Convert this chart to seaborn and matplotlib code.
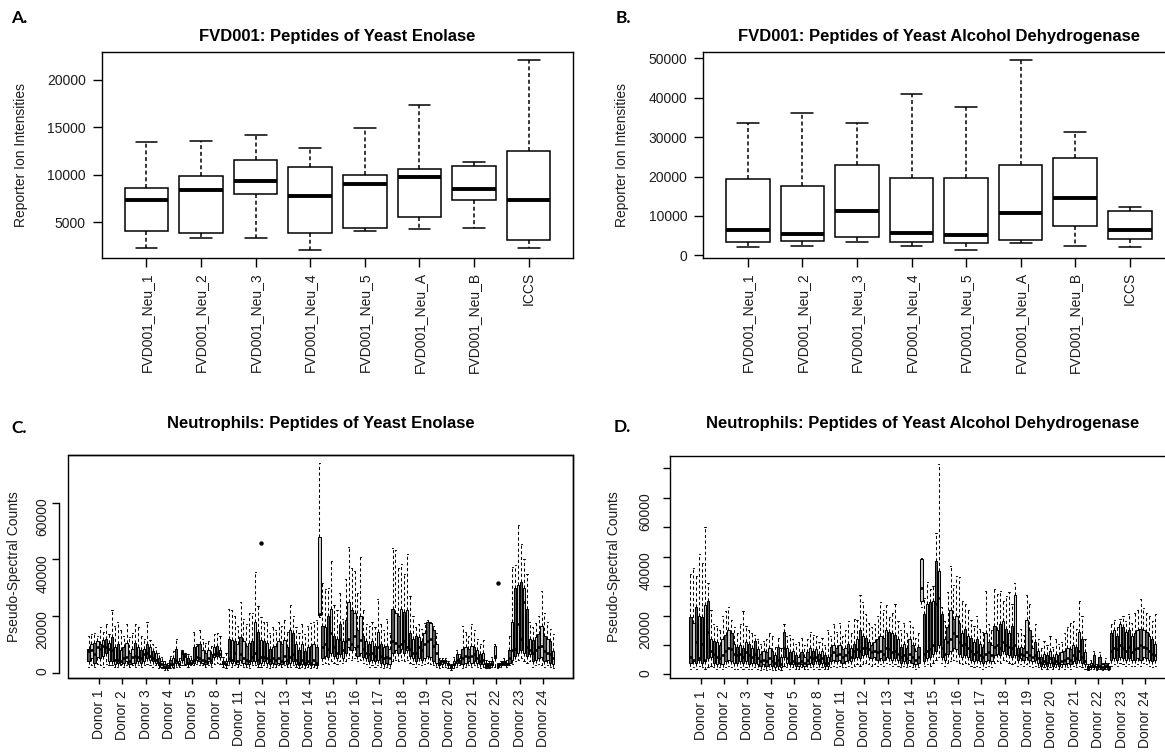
import numpy as np
import pandas as pd
import matplotlib
matplotlib.use("Agg")
import matplotlib.pyplot as plt
from matplotlib.ticker import MultipleLocator, FuncFormatter
from matplotlib.patches import Rectangle
import seaborn as sns

# ---------------------------------------------------------------------------
# Panels A and B: FVD001 samples, five-number summaries per sample
# ---------------------------------------------------------------------------
fvd_samples = ["FVD001_Neu_1", "FVD001_Neu_2", "FVD001_Neu_3", "FVD001_Neu_4",
               "FVD001_Neu_5", "FVD001_Neu_A", "FVD001_Neu_B", "ICCS"]

# yeast enolase reporter ion intensities
eno_fvd_lo = [2280, 3270, 3340, 2040, 4010, 4290, 4400, 2280]
eno_fvd_q1 = [4010, 3800, 8000, 3800, 4400, 5490, 7360, 3130]
eno_fvd_med = [7360, 8350, 9340, 7750, 9020, 9760, 8530, 7290]
eno_fvd_q3 = [8600, 9870, 11530, 10860, 9980, 10580, 10930, 12520]
eno_fvd_hi = [13470, 13540, 14240, 12870, 14920, 17390, 11350, 22120]

# yeast alcohol dehydrogenase reporter ion intensities
adh_fvd_lo = [2030, 2370, 3470, 2370, 1350, 3050, 2370, 2030]
adh_fvd_q1 = [3470, 3720, 4740, 3470, 3050, 3980, 7360, 4150]
adh_fvd_med = [6350, 5410, 11250, 5670, 5080, 10830, 14470, 6350]
adh_fvd_q3 = [19290, 17600, 22840, 19540, 19710, 23010, 24700, 11250]
adh_fvd_hi = [33500, 36040, 33500, 41030, 37560, 49580, 31220, 12270]

# ---------------------------------------------------------------------------
# Panels C and D: neutrophil donors, eight runs per donor
# (pseudo-spectral counts, in thousands; one row per donor)
# ---------------------------------------------------------------------------
donors = [1, 2, 3, 4, 5, 8, 11, 12, 13, 14, 15, 16, 17, 18, 19, 20, 21, 22, 23, 24]

eno_neu_lo = [
    [2.0, 2.5, 2.0, 3.0, 2.5, 2.0, 3.0, 2.5], [2.5, 2.0, 2.0, 2.5, 2.0, 2.5, 2.0, 2.5],
    [2.0, 2.5, 2.0, 2.5, 3.0, 2.5, 2.0, 2.5], [1.5, 1.5, 1.0, 1.0, 1.5, 1.5, 2.0, 2.0],
    [2.5, 2.5, 2.0, 2.5, 2.5, 3.0, 2.5, 2.5], [2.0, 2.5, 2.0, 3.0, 3.5, 3.0, 2.0, 1.5],
    [2.5, 2.0, 2.5, 2.0, 2.5, 2.0, 2.0, 1.5], [2.5, 2.5, 2.0, 2.0, 2.5, 2.0, 1.5, 2.0],
    [2.0, 2.5, 2.0, 2.5, 2.0, 2.0, 2.5, 2.0], [1.5, 2.0, 1.5, 2.0, 1.5, 2.0, 1.5, 19.5],
    [3.0, 3.5, 3.0, 4.0, 3.5, 3.0, 4.0, 3.5], [4.0, 5.0, 4.5, 5.0, 4.0, 4.5, 3.5, 3.0],
    [2.0, 2.5, 2.0, 2.5, 2.0, 1.5, 2.0, 1.5], [4.0, 4.5, 4.0, 4.5, 4.0, 4.5, 3.5, 3.0],
    [2.0, 3.0, 2.5, 3.0, 3.5, 3.0, 2.5, 2.0], [1.5, 2.0, 2.0, 1.5, 1.0, 1.5, 2.0, 2.5],
    [1.5, 2.0, 2.5, 2.0, 2.5, 2.0, 1.5, 2.0], [1.5, 1.5, 2.0, 2.0, 1.5, 2.0, 2.5, 2.0],
    [2.5, 3.0, 4.0, 4.5, 5.0, 4.0, 3.5, 4.0], [2.0, 2.5, 3.0, 2.5, 2.0, 2.5, 2.0, 1.5],
]
eno_neu_q1 = [
    [4.0, 5.0, 3.5, 5.5, 5.0, 6.0, 7.0, 4.0], [4.0, 3.0, 3.5, 3.0, 3.5, 4.0, 3.0, 3.5],
    [3.5, 4.0, 3.5, 4.0, 5.0, 4.5, 4.0, 3.5], [2.5, 2.0, 1.5, 1.5, 2.5, 2.0, 3.5, 2.5],
    [4.5, 3.0, 3.0, 3.0, 3.5, 4.5, 4.0, 3.5], [3.0, 4.0, 3.5, 5.5, 6.0, 5.5, 3.0, 2.5],
    [4.0, 3.5, 4.0, 3.0, 4.5, 3.5, 3.0, 3.0], [4.0, 4.0, 3.0, 3.5, 4.0, 3.5, 3.0, 3.5],
    [3.0, 3.5, 3.0, 4.0, 3.0, 3.5, 4.0, 3.0], [2.5, 3.0, 2.5, 3.0, 2.5, 3.0, 2.5, 20.2],
    [5.0, 6.0, 5.5, 7.0, 6.0, 5.0, 6.5, 5.0], [7.0, 9.0, 8.0, 9.0, 6.0, 7.0, 5.5, 5.0],
    [4.0, 4.5, 4.0, 4.5, 3.5, 3.0, 3.5, 3.0], [7.0, 8.0, 7.0, 8.5, 7.0, 8.0, 6.0, 5.0],
    [4.0, 5.0, 4.5, 5.0, 6.0, 5.5, 4.0, 3.5], [2.5, 3.0, 3.5, 2.5, 1.5, 2.5, 3.5, 3.5],
    [3.0, 3.5, 4.0, 3.5, 4.0, 3.5, 3.0, 3.0], [2.0, 2.0, 2.5, 5.0, 2.0, 2.5, 3.0, 2.5],
    [3.5, 4.5, 6.0, 7.0, 8.0, 7.0, 6.0, 6.5], [4.0, 4.5, 5.0, 5.5, 4.0, 4.5, 3.5, 3.0],
]
eno_neu_med = [
    [7.5, 8.0, 6.5, 9.0, 8.5, 9.5, 9.0, 8.5], [8.0, 4.5, 4.5, 4.0, 5.0, 5.5, 4.0, 5.5],
    [6.0, 5.5, 5.0, 6.5, 7.0, 6.0, 5.0, 4.5], [3.5, 3.0, 2.0, 2.0, 3.0, 3.0, 4.5, 3.0],
    [7.0, 6.0, 3.5, 3.5, 4.5, 5.5, 5.0, 4.5], [4.0, 5.0, 4.5, 6.5, 7.0, 6.5, 3.5, 3.0],
    [5.0, 4.5, 7.0, 4.0, 6.5, 5.0, 4.5, 4.0], [5.5, 7.0, 4.5, 5.5, 5.5, 5.0, 4.5, 5.0],
    [4.5, 5.0, 4.0, 6.0, 4.5, 5.5, 6.5, 4.5], [3.5, 4.5, 3.5, 4.0, 3.5, 4.5, 3.5, 20.8],
    [9.0, 10.0, 8.5, 14.0, 9.0, 7.0, 12.0, 8.0], [11.0, 12.0, 10.0, 13.0, 9.5, 11.5, 8.5, 7.0],
    [6.5, 7.0, 6.0, 9.0, 6.0, 5.0, 5.5, 5.0], [11.0, 10.5, 9.5, 10.0, 11.0, 9.0, 8.5, 7.0],
    [7.0, 9.0, 8.0, 10.0, 11.0, 12.0, 9.5, 7.0], [3.5, 4.0, 4.0, 3.0, 2.0, 3.0, 4.5, 4.0],
    [5.0, 6.0, 5.5, 6.0, 6.5, 5.0, 4.0, 4.5], [2.5, 2.5, 3.0, 6.0, 2.5, 3.0, 3.5, 3.0],
    [5.0, 8.0, 8.5, 17.0, 12.0, 25.0, 9.0, 8.0], [7.0, 8.0, 9.0, 9.5, 7.5, 7.0, 6.5, 5.0],
]
eno_neu_q3 = [
    [8.5, 10.0, 10.5, 11.0, 10.0, 11.5, 12.0, 10.5], [12.5, 9.0, 10.0, 8.0, 9.0, 10.5, 7.0, 8.5],
    [10.5, 9.0, 8.0, 8.5, 10.0, 9.0, 7.5, 7.0], [5.0, 4.0, 3.0, 2.5, 4.5, 5.0, 8.5, 4.0],
    [7.5, 6.5, 5.0, 4.5, 9.0, 9.5, 10.0, 8.0], [7.0, 8.0, 6.5, 9.0, 9.5, 8.0, 4.0, 4.0],
    [12.0, 11.5, 11.0, 10.0, 12.5, 11.0, 9.5, 10.5], [11.0, 18.0, 14.5, 11.5, 11.0, 10.5, 8.5, 9.0],
    [9.5, 11.0, 10.0, 11.5, 9.0, 15.0, 14.0, 10.0], [8.0, 10.0, 7.5, 9.0, 9.5, 10.0, 9.0, 48.0],
    [16.5, 16.0, 20.0, 22.5, 13.0, 12.0, 17.0, 11.0], [18.5, 25.0, 22.0, 21.0, 15.0, 20.0, 13.0, 11.0],
    [10.0, 11.0, 9.5, 14.5, 10.0, 9.0, 9.5, 8.5], [22.5, 21.0, 20.0, 22.5, 21.5, 22.0, 14.0, 12.0],
    [13.0, 12.5, 11.0, 14.0, 18.0, 17.5, 15.0, 10.0], [4.5, 4.5, 4.5, 3.5, 2.5, 4.0, 6.5, 5.0],
    [8.5, 9.0, 8.5, 9.5, 9.0, 8.0, 6.5, 7.0], [3.5, 3.5, 4.0, 9.5, 3.0, 3.5, 4.0, 3.5],
    [8.0, 18.0, 30.0, 31.0, 32.0, 30.0, 22.5, 12.0], [11.5, 12.5, 13.5, 16.5, 13.0, 12.0, 11.0, 7.5],
]
eno_neu_hi = [
    [13.0, 13.5, 14.0, 13.0, 16.0, 14.5, 17.0, 13.5], [22.0, 16.5, 18.0, 15.0, 13.0, 17.0, 12.5, 14.0],
    [17.0, 16.0, 13.0, 12.0, 18.0, 11.5, 10.0, 9.0], [7.0, 5.5, 4.0, 3.5, 6.0, 7.5, 12.0, 5.0],
    [8.0, 7.0, 6.5, 6.0, 14.5, 10.0, 15.0, 12.0], [10.5, 11.0, 9.5, 13.5, 14.0, 13.0, 5.5, 7.0],
    [22.5, 22.0, 20.0, 16.5, 25.0, 19.0, 17.0, 21.0], [21.0, 35.5, 23.5, 19.5, 18.0, 18.0, 14.0, 16.0],
    [15.0, 18.0, 16.5, 18.5, 14.5, 24.0, 20.0, 16.0], [14.0, 17.0, 13.5, 16.5, 17.5, 18.0, 18.5, 74.0],
    [31.5, 29.5, 30.0, 39.5, 24.0, 22.0, 28.0, 19.0], [33.0, 44.5, 37.0, 36.0, 28.0, 41.0, 22.0, 17.0],
    [16.5, 18.0, 16.0, 26.0, 17.0, 15.0, 19.0, 14.0], [44.0, 43.5, 37.0, 38.5, 35.0, 42.0, 27.0, 20.0],
    [16.0, 17.0, 15.5, 17.5, 18.5, 18.0, 16.5, 14.0], [5.0, 5.0, 5.0, 4.0, 3.0, 5.5, 8.0, 6.5],
    [16.5, 14.5, 13.0, 17.0, 15.0, 12.0, 10.0, 11.5], [4.5, 4.0, 5.5, 10.0, 3.5, 4.0, 5.0, 4.5],
    [13.0, 37.5, 38.0, 52.0, 45.5, 40.0, 35.0, 18.0], [16.0, 17.5, 20.0, 29.0, 21.0, 18.0, 15.5, 13.5],
]
# single outlying runs (donor, run within donor, value in thousands)
eno_outlier_donor = [12, 22]
eno_outlier_run = [3, 4]
eno_outlier_value = [45.8, 31.5]

adh_neu_lo = [
    [2.0, 2.5, 2.0, 3.0, 2.5, 2.0, 2.5, 3.0], [2.5, 2.0, 2.5, 2.0, 2.5, 3.0, 2.5, 2.0],
    [2.0, 2.5, 2.0, 2.5, 2.0, 2.0, 2.5, 2.0], [1.5, 2.0, 1.5, 2.0, 1.5, 1.5, 2.0, 1.5],
    [3.0, 2.5, 2.0, 2.5, 2.0, 2.0, 2.5, 2.0], [2.0, 2.5, 2.0, 2.5, 2.0, 2.5, 2.0, 2.0],
    [2.5, 3.0, 2.5, 3.0, 2.5, 2.5, 3.0, 2.5], [3.0, 3.5, 3.0, 3.5, 4.0, 3.5, 3.0, 3.5],
    [3.0, 3.5, 3.0, 4.0, 3.5, 3.0, 3.5, 3.0], [2.5, 3.0, 2.5, 3.0, 2.5, 2.0, 2.5, 22.8],
    [3.0, 3.5, 3.0, 4.0, 5.0, 6.0, 4.0, 3.0], [4.0, 4.5, 5.0, 4.5, 4.0, 3.5, 4.0, 3.5],
    [3.0, 2.5, 3.0, 2.5, 2.0, 2.5, 3.0, 2.5], [4.0, 4.5, 4.0, 5.0, 4.5, 4.0, 3.5, 4.0],
    [3.0, 3.5, 3.0, 3.5, 3.0, 2.5, 3.0, 2.5], [2.0, 2.5, 2.0, 2.5, 2.0, 2.5, 2.0, 2.5],
    [2.0, 2.5, 2.0, 3.0, 2.5, 3.0, 2.5, 2.0], [1.5, 2.0, 2.0, 1.5, 2.0, 1.5, 2.0, 1.5],
    [3.0, 3.5, 3.0, 4.0, 3.5, 3.0, 3.5, 3.0], [3.0, 3.5, 3.0, 4.0, 3.5, 3.0, 2.5, 3.0],
]
adh_neu_q1 = [
    [4.0, 4.5, 4.0, 5.0, 4.0, 4.5, 5.5, 6.0], [4.0, 3.5, 4.0, 3.5, 4.5, 5.0, 4.5, 4.0],
    [4.0, 4.5, 4.0, 4.5, 3.5, 4.0, 4.0, 3.5], [3.0, 3.5, 3.0, 3.5, 3.0, 2.5, 3.0, 2.5],
    [6.0, 4.0, 3.5, 3.5, 3.0, 3.0, 3.5, 3.0], [3.5, 4.0, 3.5, 4.5, 3.5, 4.0, 3.0, 3.0],
    [4.5, 5.0, 4.5, 5.0, 4.0, 4.5, 5.0, 4.5], [5.5, 6.0, 5.5, 6.5, 7.0, 6.0, 5.5, 6.0],
    [5.0, 5.5, 5.0, 6.0, 5.5, 5.0, 5.5, 5.0], [4.0, 4.5, 4.0, 5.0, 4.0, 3.5, 4.0, 25.0],
    [4.5, 5.5, 6.0, 7.0, 8.0, 10.0, 6.0, 5.0], [7.0, 8.0, 9.0, 8.5, 7.0, 6.0, 6.5, 6.0],
    [5.0, 4.5, 5.0, 4.5, 4.0, 4.5, 5.0, 4.5], [6.5, 7.0, 6.5, 8.0, 7.0, 6.5, 6.0, 6.5],
    [5.0, 5.5, 5.0, 6.0, 5.0, 4.5, 5.0, 4.0], [3.0, 3.5, 3.0, 4.0, 3.0, 3.5, 3.0, 3.5],
    [3.5, 4.0, 3.5, 4.5, 4.0, 5.0, 4.0, 3.5], [2.0, 2.5, 2.5, 2.0, 2.5, 2.0, 2.5, 2.0],
    [5.0, 5.5, 5.0, 6.0, 5.5, 5.0, 5.5, 5.0], [5.0, 5.5, 5.0, 6.0, 5.5, 5.0, 4.5, 5.0],
]
adh_neu_med = [
    [6.0, 5.0, 11.0, 5.5, 10.5, 5.0, 14.5, 8.0], [7.0, 6.0, 5.5, 6.5, 8.0, 9.0, 8.5, 7.0],
    [6.5, 7.0, 6.0, 7.5, 6.5, 6.0, 7.0, 5.5], [4.5, 5.0, 4.5, 5.5, 4.5, 4.0, 5.0, 3.5],
    [9.0, 5.5, 4.0, 4.5, 4.0, 4.0, 4.5, 4.0], [5.0, 6.0, 5.5, 6.0, 5.0, 5.5, 4.0, 4.0],
    [6.5, 7.5, 6.5, 7.0, 6.0, 6.5, 7.5, 6.0], [8.0, 8.5, 8.0, 9.0, 9.0, 8.5, 7.5, 8.0],
    [7.5, 8.0, 7.0, 9.0, 8.5, 7.5, 8.0, 7.0], [6.0, 6.5, 5.5, 7.0, 6.0, 5.0, 6.0, 29.5],
    [7.0, 8.0, 8.5, 10.0, 24.0, 26.0, 9.0, 7.0], [11.0, 12.0, 14.0, 13.0, 11.0, 10.0, 10.5, 9.0],
    [8.0, 7.0, 7.5, 6.5, 6.0, 7.0, 7.5, 6.5], [9.5, 10.0, 9.0, 11.0, 10.0, 9.5, 9.0, 10.0],
    [6.5, 7.0, 6.5, 7.5, 6.5, 6.0, 6.5, 5.5], [4.0, 4.5, 4.0, 5.5, 4.0, 4.5, 4.0, 4.5],
    [5.0, 5.5, 5.0, 6.5, 5.5, 8.0, 6.0, 4.5], [2.5, 3.0, 3.0, 2.5, 3.0, 2.5, 3.0, 2.5],
    [8.0, 9.0, 8.5, 10.0, 9.0, 8.0, 9.5, 7.5], [8.5, 9.0, 10.0, 9.5, 9.0, 8.0, 7.0, 6.5],
]
adh_neu_q3 = [
    [19.5, 17.5, 23.0, 20.0, 19.5, 23.5, 25.0, 12.0], [11.5, 11.0, 10.0, 12.0, 13.5, 15.0, 14.0, 10.5],
    [9.5, 10.0, 9.0, 11.0, 10.5, 9.0, 11.5, 8.5], [7.0, 8.0, 7.5, 9.0, 8.0, 6.5, 9.5, 6.0],
    [14.5, 9.0, 7.5, 8.0, 6.5, 6.0, 7.5, 6.0], [7.5, 9.0, 8.0, 8.5, 7.0, 8.0, 6.5, 6.0],
    [9.5, 10.0, 9.0, 10.0, 8.5, 9.0, 10.5, 9.0], [10.5, 12.0, 15.0, 13.0, 12.5, 11.0, 10.0, 11.0],
    [12.0, 13.0, 12.5, 15.0, 14.5, 14.0, 13.5, 12.0], [9.5, 10.5, 9.0, 12.0, 10.0, 8.0, 9.5, 39.3],
    [20.5, 24.0, 24.5, 25.0, 38.5, 35.0, 20.5, 12.0], [16.0, 22.0, 19.0, 20.0, 17.5, 14.0, 15.5, 13.0],
    [12.5, 11.0, 12.0, 10.5, 9.5, 14.0, 11.0, 10.0], [16.5, 15.0, 17.0, 18.0, 15.5, 14.0, 16.5, 27.0],
    [9.0, 9.5, 9.0, 18.5, 15.0, 9.0, 11.0, 8.0], [6.0, 7.0, 6.5, 8.0, 6.0, 7.0, 6.5, 7.5],
    [8.0, 9.0, 8.5, 10.0, 9.5, 14.5, 12.0, 7.5], [3.0, 4.0, 6.5, 3.0, 6.0, 3.5, 4.0, 3.0],
    [14.0, 15.0, 13.0, 17.0, 16.0, 14.5, 15.0, 13.0], [14.0, 15.0, 15.5, 15.0, 14.5, 13.0, 12.0, 10.5],
]
adh_neu_hi = [
    [34.0, 36.0, 33.5, 41.0, 38.0, 50.0, 31.0, 22.0], [17.0, 16.5, 15.0, 20.0, 21.5, 23.0, 18.5, 16.0],
    [14.0, 17.0, 21.5, 16.5, 15.0, 14.0, 13.5, 12.0], [10.5, 11.5, 12.0, 14.0, 13.0, 9.5, 12.5, 9.0],
    [17.0, 13.0, 13.5, 12.0, 10.5, 11.0, 12.5, 10.0], [12.0, 14.5, 13.5, 13.0, 11.0, 12.5, 10.0, 15.0],
    [13.0, 17.0, 14.5, 17.5, 13.0, 15.0, 18.0, 14.0], [19.0, 18.5, 27.0, 24.5, 20.5, 17.5, 16.0, 17.0],
    [20.0, 24.5, 22.0, 23.5, 19.5, 21.0, 24.0, 18.0], [15.0, 17.5, 14.0, 18.0, 16.0, 12.5, 14.0, 39.5],
    [26.0, 31.5, 29.0, 30.0, 48.0, 71.5, 23.0, 18.0], [28.0, 37.0, 30.5, 33.5, 33.0, 25.0, 24.0, 22.0],
    [18.5, 16.5, 20.0, 15.5, 14.5, 28.5, 17.0, 15.0], [29.0, 27.5, 28.5, 25.0, 26.5, 28.0, 24.0, 31.0],
    [14.0, 15.5, 13.5, 27.0, 24.0, 13.0, 17.0, 12.0], [9.0, 11.5, 10.0, 13.0, 9.5, 12.0, 10.5, 11.0],
    [14.0, 16.0, 17.5, 18.0, 15.5, 25.0, 20.0, 12.0], [3.5, 5.0, 8.0, 3.5, 7.5, 4.0, 5.5, 4.0],
    [17.0, 18.5, 16.0, 19.0, 20.0, 18.0, 20.5, 17.5], [21.0, 22.0, 25.5, 22.5, 21.0, 20.0, 18.0, 20.5],
]

# ---------------------------------------------------------------------------
sns.set_style("white")
plt.rcParams["font.family"] = ["Liberation Sans", "DejaVu Sans"]
TEXT = "#1c1c1c"

W, H = 1165, 752
fig = plt.figure(figsize=(W / 100, H / 100), dpi=100)


def axes_px(left, top, right, bottom):
    return fig.add_axes([left / W, 1 - bottom / H, (right - left) / W, (bottom - top) / H])


def text_px(x, y, s, **kw):
    fig.text(x / W, 1 - y / H, s, **kw)


def r_range(lo, hi):
    span = hi - lo
    return lo - 0.04 * span, hi + 0.04 * span


def style_frame(ax, lw=1.0):
    for sp in ax.spines.values():
        sp.set_visible(True)
        sp.set_color("black")
        sp.set_linewidth(lw)
    ax.tick_params(axis="both", direction="out", color="black", width=lw,
                   labelcolor=TEXT, labelsize=10, bottom=True, left=True)
    ax.grid(False)


def fvd_panel(ax, lo, q1, med, q3, hi, step, ylabel, label_x_px, left_px, right_px):
    rows = [(s, v) for s, *five in zip(fvd_samples, lo, q1, med, q3, hi) for v in five]
    df = pd.DataFrame(rows, columns=["sample", "value"])
    sns.boxplot(data=df, x="sample", y="value", order=fvd_samples, ax=ax,
                whis=(0, 100), width=0.8, color="white", saturation=1,
                linecolor="black", linewidth=1.1, showfliers=False,
                medianprops=dict(linewidth=2.8, solid_capstyle="butt"),
                whiskerprops=dict(linestyle=(0, (2.6, 1.8))))
    n = len(fvd_samples)
    ax.set_xlim(-0.5 - 0.04 * n, n - 0.5 + 0.04 * n)
    ax.set_ylim(*r_range(df["value"].min(), df["value"].max()))
    ax.yaxis.set_major_locator(MultipleLocator(step))
    ax.yaxis.set_major_formatter(FuncFormatter(lambda v, p: f"{v:.0f}"))
    style_frame(ax)
    ax.tick_params(axis="x", labelrotation=90, length=6.5, pad=4)
    ax.tick_params(axis="y", length=6.5, pad=5)
    ax.set_xlabel("")
    ax.set_ylabel(ylabel, fontsize=10, color=TEXT, va="center")
    ax.yaxis.set_label_coords((label_x_px - left_px) / (right_px - left_px), 0.5)


def neutrophil_panel(ax, lo, q1, med, q3, hi, outliers=None):
    runs = len(lo[0])
    rows = []
    for d, stats in enumerate(zip(lo, q1, med, q3, hi)):
        for r, five in enumerate(zip(*stats)):
            shade = "dark" if r % 2 == 0 else "light"
            for v in five:
                rows.append((d * runs + r, shade, v * 1000))
    df = pd.DataFrame(rows, columns=["run", "shade", "value"])
    sns.boxplot(data=df, x="run", y="value", hue="shade", hue_order=["dark", "light"],
                palette=["#555555", "#d0d0d0"], saturation=1, dodge=False, legend=False,
                ax=ax, whis=(0, 100), width=0.8, linecolor="black", linewidth=0.75,
                showfliers=False,
                medianprops=dict(linewidth=1.9, solid_capstyle="butt"),
                whiskerprops=dict(linestyle=(0, (3, 2.4))))
    ymax = df["value"].max()
    ymin = df["value"].min()
    if outliers is not None:
        od, orun, oval = outliers
        ox = [donors.index(d) * runs + r for d, r in zip(od, orun)]
        oy = [v * 1000 for v in oval]
        ax.scatter(ox, oy, s=10, color="black", zorder=6, linewidths=0)
        ymax = max(ymax, max(oy))
        ymin = min(ymin, min(oy))
    n = len(donors) * runs
    ax.set_xlim(-0.5 - 0.04 * n, n - 0.5 + 0.04 * n)
    ax.set_ylim(*r_range(ymin, ymax))
    ax.set_xticks([d * runs + (runs - 1) / 2 for d in range(len(donors))],
                  [f"Donor {d}" for d in donors])
    style_frame(ax)
    ax.tick_params(axis="x", labelrotation=90, length=4.5, pad=4)
    ax.set_xlabel("")


# --- Panel A ---
axA = axes_px(101.7, 52.3, 573.4, 257.7)
fvd_panel(axA, eno_fvd_lo, eno_fvd_q1, eno_fvd_med, eno_fvd_q3, eno_fvd_hi, 5000,
          "Reporter Ion Intensities", 21, 101.7, 573.4)

# --- Panel B ---
axB = axes_px(703.1, 52.3, 1174.5, 257.7)
fvd_panel(axB, adh_fvd_lo, adh_fvd_q1, adh_fvd_med, adh_fvd_q3, adh_fvd_hi, 10000,
          "Reporter Ion Intensities", 621.8, 703.1, 1174.5)

# --- Panel C ---
axC = axes_px(68.4, 455, 573.4, 678)
neutrophil_panel(axC, eno_neu_lo, eno_neu_q1, eno_neu_med, eno_neu_q3, eno_neu_hi,
                 outliers=(eno_outlier_donor, eno_outlier_run, eno_outlier_value))
axC.yaxis.set_major_locator(MultipleLocator(20000))
axC.yaxis.set_major_formatter(FuncFormatter(lambda v, p: f"{v:.0f}"))
axC.spines["left"].set_position(("outward", 6.5))
axC.spines["left"].set_bounds(0, 60000)
axC.add_patch(Rectangle((0, 0), 1, 1, transform=axC.transAxes, fill=False,
                        edgecolor="black", linewidth=1.0, clip_on=False, zorder=5))
axC.tick_params(axis="y", labelrotation=90, length=5, pad=2)
axC.set_ylabel("Pseudo-Spectral Counts", fontsize=10, color=TEXT, va="center")
axC.yaxis.set_label_coords((13.7 - 68.4) / (573.4 - 68.4), 0.5)

# --- Panel D ---
axD = axes_px(670.3, 455.7, 1175.3, 678.3)
neutrophil_panel(axD, adh_neu_lo, adh_neu_q1, adh_neu_med, adh_neu_q3, adh_neu_hi)
axD.yaxis.set_major_locator(MultipleLocator(10000))
axD.yaxis.set_major_formatter(
    FuncFormatter(lambda v, p: f"{v:.0f}" if round(v) % 20000 == 0 else ""))
axD.tick_params(axis="y", labelrotation=90, length=5, pad=8)
axD.set_ylabel("Pseudo-Spectral Counts", fontsize=10, color=TEXT, va="center")
axD.yaxis.set_label_coords((613.6 - 670.3) / (1175.3 - 670.3), 0.5)

# --- titles and panel letters ---
title_kw = dict(ha="center", va="center", fontsize=12, fontweight="bold", color="black")
text_px((101.7 + 573.4) / 2, 36.7, "FVD001: Peptides of Yeast Enolase", **title_kw)
text_px((703.1 + 1174.5) / 2, 36.7, "FVD001: Peptides of Yeast Alcohol Dehydrogenase", **title_kw)
text_px((68.4 + 573.4) / 2, 423.3, "Neutrophils: Peptides of Yeast Enolase", **title_kw)
text_px((670.3 + 1175.3) / 2, 423.3, "Neutrophils: Peptides of Yeast Alcohol Dehydrogenase", **title_kw)

letter_kw = dict(ha="center", va="center", fontsize=12.5, fontweight="bold",
                 family=["Lato", "DejaVu Sans"], color="black")
text_px(19.5, 18.3, "A.", **letter_kw)
text_px(623, 18.3, "B.", **letter_kw)
text_px(19.5, 428, "C.", **letter_kw)
text_px(622.5, 427.3, "D.", **letter_kw)

fig.savefig("out.png", dpi=100, facecolor="white")
